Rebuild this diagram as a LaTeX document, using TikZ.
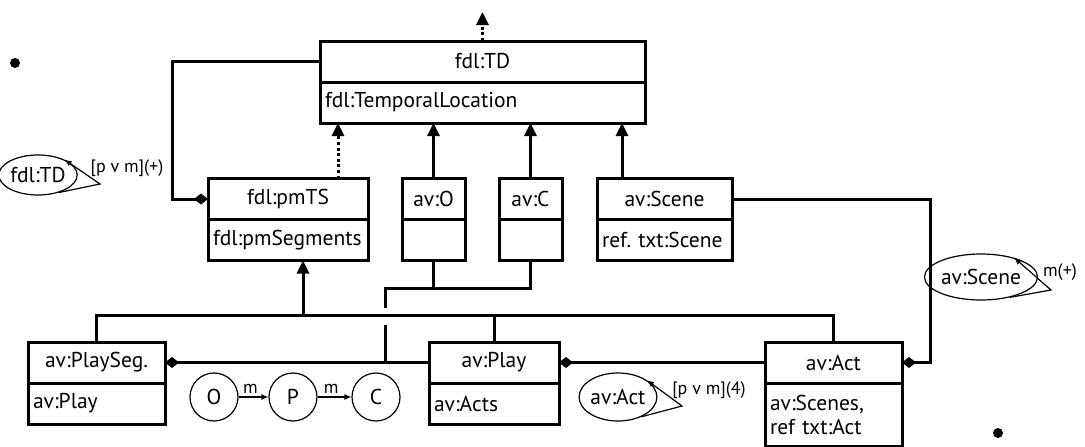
\documentclass[tikz,border=0pt]{standalone}
\usepackage{fontspec}
\setmainfont{PT Sans}
\usetikzlibrary{arrows.meta,shapes.geometric}

\begin{document}
\begin{tikzpicture}[x=1pt, y=-1pt, font=\fontsize{21.5}{24}\selectfont,
    head/.style = {draw, line width=3pt, outer sep=0pt, minimum height=41pt, inner sep=0pt},
    body/.style = {draw, line width=3pt, outer sep=0pt, minimum height=41pt, inner xsep=5pt, inner ysep=0pt,
                   anchor=north west, align=left, text width=#1},
    line/.style = {line width=3pt},
    gen/.style = {line, -{Triangle[length=13pt, width=12pt]}},
    genp/.style = {gen, dash pattern=on 3pt off 2.6pt},
    agg/.style = {line, {Diamond[length=14pt, width=11pt]}-},
    role/.style = {draw, ellipse, line width=1.2pt, inner sep=0pt},
    selfl/.style = {line width=1.2pt, -{Latex[length=7pt, width=6pt]}},
    state/.style = {draw, circle, line width=1.2pt, minimum size=48pt, inner sep=0pt},
    small/.style = {font=\fontsize{18}{20}\selectfont}]
    \useasboundingbox (0,0) rectangle (1085,447);

    \node[head, minimum width=325pt] (td) at (482.5,61.5) {fdl:TD};
    \node[body=315pt] (tdL) at (td.south west) {fdl:TemporalLocation};
    \node[head, minimum width=160pt] (pmts) at (288,199) {fdl:pmTS};
    \node[body=150pt] (pmtsL) at (pmts.south west) {fdl:pmSegments};
    \node[head, minimum width=63pt] (avo) at (433.5,199) {av:O};
    \node[body=53pt] (avoL) at (avo.south west) {};
    \node[head, minimum width=63pt] (avc) at (530.5,199) {av:C};
    \node[body=53pt] (avcL) at (avc.south west) {};
    \node[head, minimum width=135pt] (scene) at (664.5,199) {av:Scene};
    \node[body=125pt] (sceneL) at (scene.south west) {ref.\ txt:Scene};
    \node[head, minimum width=137pt] (playseg) at (96.5,362.5) {av:PlaySeg.};
    \node[body=127pt] (playsegL) at (playseg.south west) {av:Play};
    \node[head, minimum width=130pt] (play) at (494,362.5) {av:Play};
    \node[body=120pt] (playL) at (play.south west) {av:Acts};
    \node[head, minimum width=137pt] (act) at (833.5,362.5) {av:Act};
    \node[body=127pt, minimum height=63pt] (actL) at (act.south west) {av:Scenes,\\ref txt:Act};

    \draw[genp] (td.north) -- ++(0,-29);
    \draw[genp] ([xshift=50pt]pmts.north) -- ([xshift=50pt]pmts.north |- tdL.south);
    \draw[gen] (avo.north) -- (avo.north |- tdL.south);
    \draw[gen] (avc.north) -- (avc.north |- tdL.south);
    \draw[gen] ([xshift=-42.5pt]scene.north) -- ([xshift=-42.5pt]scene.north |- tdL.south);

    \coordinate (tdl) at (172,61.5);
    \draw[agg] (pmts.west) -| (tdl) -- (td.west);
    \coordinate (scr) at (930,199);
    \draw[agg] (act.east) -| (scr) -- (scene.east);

    \coordinate (genj) at (303,315);
    \draw[gen] (genj) -- (genj |- pmtsL.south);
    \draw[line] (playseg.north) |- (genj) -| (act.north);
    \draw[line] (play.north) -- (play.north |- genj);

    \coordinate (ocj) at (385,288);
    \draw[line] (avoL.south) |- (ocj) -- (ocj |- 0,308);
    \draw[line] (avcL.south) |- (ocj);
    \draw[line] (ocj |- 0,325) -- (ocj |- play.west);
    \draw[agg] (playseg.east) -- (play.west);
    \draw[agg] (play.east) -- (act.west);

    \node[role, minimum width=62pt, minimum height=40pt] (tdE) at (38,175) {fdl:TD};
    \coordinate (tdtip) at (100,184);
    \draw[selfl] (tdE.-40) -- (tdtip) -- (tdE.30);
    \node[small] at (127,168) {[p v m](+)};

    \node[role, minimum width=68pt, minimum height=48pt] (actE) at (618,397) {av:Act};
    \coordinate (acttip) at (682,406);
    \draw[selfl] (actE.-40) -- (acttip) -- (actE.30);
    \node[small] at (709,390) {[p v m](4)};

    \node[role, minimum width=83pt, minimum height=46pt] (sceneE) at (981,277) {av:Scene};
    \coordinate (scenetip) at (1051,290);
    \draw[selfl] (sceneE.-35) -- (scenetip) -- (sceneE.30);
    \node[small] at (1060,272) {m(+)};

    \node[state] (o) at (214,397) {O};
    \node[state] (p) at (293,397) {P};
    \node[state] (c) at (376,397) {C};
    \draw[selfl] (o) -- node[small, above, pos=0.4] {m} (p);
    \draw[selfl] (p) -- node[small, above, pos=0.4] {m} (c);

    \fill (15,63) circle (5);
    \fill (998,433) circle (5);
\end{tikzpicture}
\end{document}
